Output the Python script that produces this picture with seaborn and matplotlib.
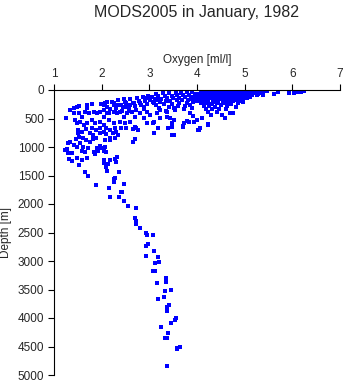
import matplotlib
matplotlib.use("Agg")
import matplotlib.pyplot as plt
import seaborn as sns
import pandas as pd

# ---- data ----
surface_ox = [4.12, 4.22, 4.31, 4.43, 4.52, 4.61, 4.73, 4.84, 4.93, 5.04, 5.17, 5.28, 5.41,
              4.08, 4.19, 4.27, 4.38, 4.49, 4.57, 4.68, 4.79, 4.88, 4.99, 5.11, 5.22, 5.36,
              4.03, 4.15, 4.26, 4.35, 4.46, 4.55, 4.66, 4.77, 4.86, 4.97, 5.07, 5.16, 5.29,
              3.96, 4.10, 4.21, 4.33, 4.41, 4.53, 4.63, 4.71, 4.82, 4.91, 5.02, 5.12,
              3.88, 4.06, 4.17, 4.29, 4.39, 4.48, 4.59, 4.69, 4.78, 4.89, 4.98,
              4.01, 4.13, 4.24, 4.36, 4.44, 4.56, 4.64, 4.76, 4.87, 4.95,
              4.09, 4.19, 4.31, 4.42, 4.54, 4.72, 4.86,
              4.14, 4.26, 4.37, 4.51, 4.63, 4.81,
              4.18, 4.32, 4.47, 4.61,
              4.24, 4.41, 4.70,
              4.29, 4.52,
              4.17, 4.27, 4.36, 4.47, 4.56, 4.67, 4.78, 4.89, 4.98, 5.09, 5.21, 5.33,
              4.11, 4.23, 4.33, 4.42, 4.53, 4.64, 4.74, 4.83, 4.94, 5.05, 5.14, 5.24,
              4.07, 4.18, 4.30, 4.40, 4.50, 4.60, 4.70, 4.80, 4.90, 5.00, 5.09,
              4.02, 4.14, 4.25, 4.34, 4.45, 4.55, 4.66, 4.74, 4.85, 4.94, 5.04,
              4.05, 4.22, 4.33, 4.47, 4.60, 4.69, 4.81, 4.92,
              4.11, 4.23, 4.40, 4.58, 4.67]
surface_dp = [8, 12, 5, 10, 6, 14, 9, 7, 11, 5, 13, 8, 20,
              42, 38, 45, 35, 48, 40, 37, 46, 39, 44, 41, 52, 36,
              78, 72, 81, 70, 76, 83, 74, 79, 71, 85, 77, 90, 73,
              112, 108, 115, 105, 118, 110, 113, 107, 119, 111, 116, 122,
              152, 148, 155, 145, 158, 150, 146, 157, 151, 160, 149,
              192, 188, 195, 185, 198, 190, 193, 187, 200, 196,
              232, 228, 238, 226, 235, 240, 230,
              282, 276, 290, 270, 285, 300,
              335, 325, 340, 330,
              390, 380, 395,
              440, 430,
              25, 22, 28, 24, 20, 27, 23, 26, 21, 25, 28, 24,
              58, 62, 55, 60, 57, 63, 59, 56, 61, 58, 64, 60,
              95, 92, 98, 90, 96, 93, 99, 94, 97, 100, 95,
              130, 133, 128, 135, 131, 127, 134, 129, 136, 132, 138,
              170, 168, 173, 166, 171, 175, 169, 172,
              210, 212, 208, 215, 250]

tail_ox = [5.18, 5.33, 5.46, 5.62, 5.69, 5.93, 6.04, 6.12, 6.18, 6.25, 5.25, 5.38]
tail_dp = [60, 45, 12, 70, 30, 60, 50, 40, 30, 20, 90, 80]

mid_ox = [3.15, 3.28, 3.41, 3.55, 3.66, 3.78, 3.90,
          3.05, 3.18, 3.33, 3.47, 3.58, 3.71, 3.84, 3.95,
          3.02, 3.12, 3.25, 3.38, 3.50, 3.62, 3.75, 3.87,
          3.08, 3.22, 3.35, 3.44, 3.57, 3.69, 3.81, 3.93,
          3.14, 3.30, 3.48, 3.63, 3.79, 3.91,
          3.20, 3.41, 3.60, 3.74, 3.86,
          3.36, 3.53, 3.72, 3.89,
          3.44, 3.47, 3.39, 3.71, 3.79, 3.86, 3.92, 4.00, 4.03, 4.24, 3.47,
          3.08, 3.49, 3.71, 4.05, 3.84, 4.10, 4.24, 4.59, 4.76, 4.97]
mid_dp = [75, 60, 55, 50, 45, 40, 30,
          120, 110, 105, 100, 95, 90, 85, 70,
          165, 160, 150, 145, 140, 135, 130, 125,
          210, 200, 195, 185, 180, 175, 170, 165,
          260, 250, 240, 230, 225, 215,
          310, 295, 285, 275, 265,
          360, 345, 330, 320,
          490, 580, 665, 630, 545, 400, 455, 520, 700, 610, 785,
          580, 790, 650, 700, 560, 490, 600, 490, 400, 210]

upper_ox = [2.08, 2.21, 2.35, 2.47, 2.60, 2.74, 2.86, 2.97,
            2.12, 2.26, 2.40, 2.52, 2.66, 2.79, 2.91,
            2.05, 2.18, 2.31, 2.44, 2.57, 2.70, 2.83, 2.95,
            2.15, 2.29, 2.42, 2.58, 2.72, 2.88,
            1.25, 1.34, 1.41, 1.48, 1.52, 1.70, 1.70, 1.79, 1.99, 2.11, 2.04, 2.25, 2.32,
            2.49, 2.49, 2.60, 2.67, 2.81, 2.95, 3.02, 2.88, 3.09, 3.16, 3.23,
            1.41, 1.52, 1.59, 1.66, 1.73, 1.83, 1.90, 1.97, 2.04, 2.11, 2.15, 2.25, 2.32,
            2.39, 2.46, 2.53, 2.63, 2.70, 2.81, 2.88, 2.95, 3.02, 3.16, 3.23, 3.37, 3.51,
            1.45, 1.48, 1.55, 1.62, 1.70, 1.79, 1.86, 1.97, 2.04, 2.25, 2.39, 2.49, 2.60,
            2.70, 2.77, 2.95, 3.09, 3.23, 3.37, 3.51, 3.72, 3.93, 4.07, 3.09, 3.19, 3.47, 3.51]
upper_dp = [230, 205, 175, 160, 150, 140, 120, 110,
            290, 270, 255, 235, 220, 200, 185,
            350, 330, 320, 300, 290, 275, 260, 245,
            400, 385, 370, 360, 345, 330,
            497, 351, 322, 292, 280, 263, 322, 251, 245, 205, 263, 234, 263,
            205, 292, 263, 234, 234, 146, 175, 292, 234, 175, 205,
            410, 410, 468, 380, 410, 380, 410, 380, 468, 410, 526, 380, 410,
            380, 468, 410, 380, 468, 410, 497, 380, 438, 410, 351, 380, 322,
            526, 585, 555, 614, 585, 526, 585, 555, 614, 585, 555, 585, 555,
            643, 702, 585, 555, 497, 468, 526, 585, 555, 673, 760, 673, 643, 790]

lower_ox = [1.23, 1.30, 1.37, 1.27, 1.30, 1.33, 1.41, 1.48, 1.58, 1.65, 1.61, 1.72,
            1.55, 1.46, 1.53, 1.61, 1.68, 1.75, 1.82, 1.89, 1.90, 1.92, 1.99, 2.05,
            2.08, 1.97, 2.09, 1.84, 1.87, 1.97, 2.04, 2.10, 2.24, 2.31, 2.34, 2.17,
            2.27, 2.17, 2.06, 2.17, 1.82, 1.75, 1.89, 1.58, 1.50, 1.50, 1.68, 1.79,
            1.97, 2.10, 2.27, 2.41, 2.52, 2.66, 2.73, 2.65, 2.70,
            2.05, 2.18, 2.28, 2.30, 2.32, 2.14, 2.04, 2.09, 2.11, 1.53, 1.48, 1.38,
            1.32, 1.58, 1.70, 1.64, 1.72, 1.88]
lower_dp = [1050, 1110, 1100, 1030, 935, 905, 965, 995, 1070, 1080, 1000, 1025,
            925, 865, 820, 845, 885, 915, 860, 835, 1025, 1065, 1025, 1065,
            1000, 975, 1085, 1085, 1125, 760, 735, 770, 760, 735, 785, 845,
            845, 885, 885, 710, 790, 760, 710, 735, 760, 710, 690, 670,
            670, 670, 670, 670, 670, 690, 670, 905, 860,
            1230, 1230, 1210, 1270, 1180, 1300, 1285, 1355, 1420, 1315, 1200, 1250,
            1210, 1230, 1200, 1430, 1500, 1660]

deep_ox = [2.37, 2.28, 2.25, 2.25, 2.16, 2.37, 2.46, 2.41, 2.42, 2.18, 2.47, 2.56,
           2.71, 2.70, 2.71, 2.71, 2.81, 2.93, 2.96, 3.07, 2.98, 2.92, 3.09, 2.93,
           3.19, 3.21, 3.11, 3.11, 3.07, 3.34, 3.34, 3.16, 3.45, 3.32, 3.30, 3.18,
           3.42, 3.38, 3.38, 3.56, 3.54, 3.46, 3.25, 3.40, 3.32, 3.37, 3.65, 3.57,
           3.58, 3.38]
deep_dp = [1440, 1540, 1565, 1620, 1720, 1870, 1655, 1795, 1795, 1880, 1950, 2035,
           2065, 2240, 2290, 2350, 2420, 2500, 2545, 2550, 2710, 2745, 2825, 2920,
           2930, 3025, 3040, 3180, 3180, 3305, 3375, 3390, 3515, 3530, 3640, 3670,
           3775, 3810, 3870, 4000, 4030, 4090, 4160, 4255, 4355, 4355, 4500, 4520,
           4550, 4840]

x_ticks = [1, 2, 3, 4, 5, 6, 7]
y_ticks = [0, 500, 1000, 1500, 2000, 2500, 3000, 3500, 4000, 4500, 5000]

df = pd.DataFrame({
    "oxygen": surface_ox + tail_ox + mid_ox + upper_ox + lower_ox + deep_ox,
    "depth": surface_dp + tail_dp + mid_dp + upper_dp + lower_dp + deep_dp,
})

sns.set_style("white")
plt.rcParams["font.family"] = ["Liberation Sans", "DejaVu Sans"]

fig = plt.figure(figsize=(3.45, 3.84), dpi=100)
ax = fig.add_axes([54 / 345, 1 - 375 / 384, 286 / 345, 285 / 384])

sns.scatterplot(data=df, x="oxygen", y="depth", marker="s", s=5,
                color="#0000ff", linewidth=0, ax=ax, legend=False)

ax.set_xlim(1, 7)
ax.set_ylim(5000, 0)
ax.set_xticks(x_ticks)
ax.set_yticks(y_ticks)
ax.xaxis.tick_top()
ax.xaxis.set_label_position("top")
ax.set_xlabel("Oxygen [ml/l]", fontsize=8.5, labelpad=4)
ax.set_ylabel("Depth [m]", fontsize=8.5, labelpad=4)
ax.tick_params(axis="both", direction="out", length=4, width=0.8,
               labelsize=8.5, color="black", pad=3)
ax.tick_params(axis="x", top=True, bottom=False)
ax.tick_params(axis="y", left=True)
for side in ["right", "bottom"]:
    ax.spines[side].set_visible(False)
for side in ["left", "top"]:
    ax.spines[side].set_visible(True)
    ax.spines[side].set_color("black")
    ax.spines[side].set_linewidth(0.8)
ax.grid(False)

fig.text(197 / 345, 1 - 12 / 384, "MODS2005 in January, 1982",
         ha="center", va="center", fontsize=11.5)

fig.savefig("out.png", dpi=100)
